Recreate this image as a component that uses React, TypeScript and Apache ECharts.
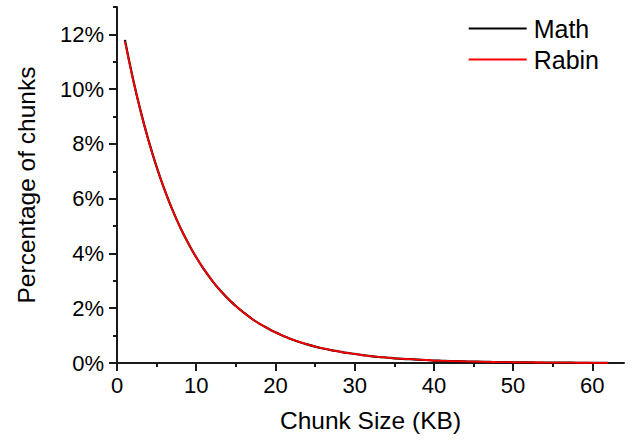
import React, { useEffect, useRef } from "react";
import * as echarts from "echarts";

const chunkSizes = [
  1, 2, 3, 4, 5, 6, 7, 8, 9, 10, 11, 12, 13, 14, 15, 16, 17, 18, 19, 20, 21,
  22, 23, 24, 25, 26, 27, 28, 29, 30, 31, 32, 33, 34, 35, 36, 37, 38, 39, 40,
  41, 42, 43, 44, 45, 46, 47, 48, 49, 50, 51, 52, 53, 54, 55, 56, 57, 58, 59,
  60, 61, 62,
];
const mathPct = [
  11.8, 10.4, 9.18, 8.11, 7.16, 6.33, 5.59, 4.94, 4.37, 3.86, 3.41, 3.01,
  2.66, 2.35, 2.08, 1.84, 1.62, 1.43, 1.27, 1.12, 0.99, 0.87, 0.77, 0.68,
  0.6, 0.53, 0.47, 0.42, 0.37, 0.33, 0.29, 0.25, 0.22, 0.2, 0.17, 0.15, 0.14,
  0.12, 0.11, 0.09, 0.08, 0.07, 0.065, 0.057, 0.05, 0.045, 0.04, 0.035,
  0.031, 0.027, 0.024, 0.021, 0.019, 0.017, 0.015, 0.013, 0.011, 0.01,
  0.009, 0.008, 0.007, 0.006,
];
const rabinPct = [
  11.75, 10.38, 9.17, 8.1, 7.16, 6.33, 5.59, 4.94, 4.37, 3.86, 3.41, 3.01,
  2.66, 2.35, 2.08, 1.84, 1.62, 1.43, 1.27, 1.12, 0.99, 0.87, 0.77, 0.68,
  0.6, 0.53, 0.47, 0.42, 0.37, 0.33, 0.29, 0.25, 0.22, 0.2, 0.17, 0.15, 0.14,
  0.12, 0.11, 0.09, 0.08, 0.07, 0.065, 0.057, 0.05, 0.045, 0.04, 0.035,
  0.031, 0.027, 0.024, 0.021, 0.019, 0.017, 0.015, 0.013, 0.011, 0.01,
  0.009, 0.008, 0.007, 0.006,
];
const xMajorTicks = [0, 10, 20, 30, 40, 50, 60];
const xMinorTicks = [5, 15, 25, 35, 45, 55];
const yMajorTicks = [0, 2, 4, 6, 8, 10, 12];
const yMinorTicks = [1, 3, 5, 7, 9, 11, 13];

const FONT = "Liberation Sans, Arial, sans-serif";
const AX = "#1a1a1a";

export default function App() {
  const ref = useRef<HTMLDivElement>(null);
  useEffect(() => {
    if (!ref.current) return;
    const chart = echarts.init(ref.current, null, { renderer: "svg" });
    const mkX = (values: number[], len: number, main: boolean) => ({
      type: "value",
      min: 0,
      max: 64,
      position: "bottom",
      name: main ? "Chunk Size (KB)" : "",
      nameLocation: "middle",
      nameGap: 45,
      nameTextStyle: { fontFamily: FONT, fontSize: 24.5, color: "#000" },
      axisLine: { show: main, lineStyle: { color: AX, width: 2 } },
      axisTick: { show: true, customValues: values, length: len, lineStyle: { color: AX, width: 2 } },
      axisLabel: {
        show: main,
        customValues: values,
        fontFamily: FONT,
        fontSize: 22,
        color: "#000",
        margin: 11,
      },
      splitLine: { show: false },
    });
    const mkY = (values: number[], len: number, main: boolean) => ({
      type: "value",
      min: 0,
      max: 13,
      position: "left",
      name: main ? "Percentage of chunks" : "",
      nameLocation: "middle",
      nameGap: 78,
      nameRotate: 90,
      nameTextStyle: { fontFamily: FONT, fontSize: 24.5, color: "#000" },
      axisLine: { show: main, lineStyle: { color: AX, width: 2 } },
      axisTick: { show: true, customValues: values, length: len, lineStyle: { color: AX, width: 2 } },
      axisLabel: {
        show: main,
        customValues: values,
        formatter: (v: number) => `${v}%`,
        fontFamily: FONT,
        fontSize: 22,
        color: "#000",
        margin: 13,
      },
      splitLine: { show: false },
    });
    chart.setOption({
      animation: false,
      backgroundColor: "#fff",
      grid: { left: 117, right: 13, top: 7, bottom: 78, containLabel: false },
      legend: {
        orient: "vertical",
        right: 33,
        top: 11,
        icon: "rect",
        itemWidth: 58,
        itemHeight: 2,
        itemGap: 6,
        textStyle: { fontFamily: FONT, fontSize: 25, color: "#000", padding: [0, 0, 0, 2] },
        data: ["Math", "Rabin"],
      },
      xAxis: [mkX(xMajorTicks, 8, true), mkX(xMinorTicks, 4, false)],
      yAxis: [mkY(yMajorTicks, 8, true), mkY(yMinorTicks, 4, false)],
      series: [
        {
          name: "Math",
          type: "line",
          symbol: "none",
          smooth: true,
          data: chunkSizes.map((x, i) => [x, mathPct[i]]),
          lineStyle: { color: "#000", width: 2.2 },
          itemStyle: { color: "#000" },
        },
        {
          name: "Rabin",
          type: "line",
          symbol: "none",
          smooth: true,
          data: chunkSizes.map((x, i) => [x, rabinPct[i]]),
          lineStyle: { color: "#ff0000", width: 1.8 },
          itemStyle: { color: "#ff0000" },
        },
      ],
    });
    return () => chart.dispose();
  }, []);
  return <div ref={ref} style={{ width: 637, height: 441, position: "fixed", left: 0, top: 0 }} />;
}
